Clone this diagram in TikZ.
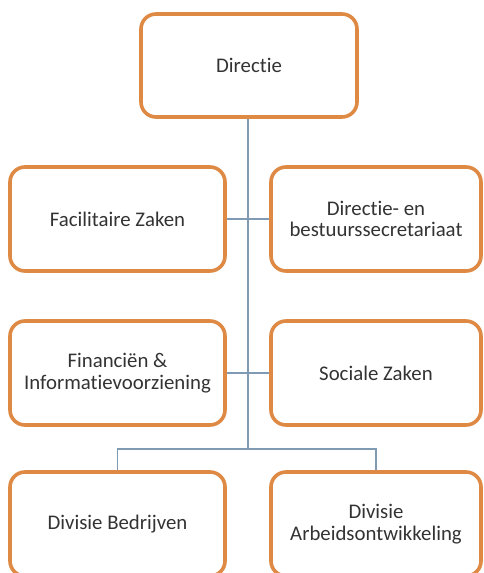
\documentclass[tikz,border=0pt]{standalone}
\usepackage{fontspec}
\setmainfont{Carlito}[Ligatures={NoCommon,NoContextual}]
\definecolor{boxorange}{HTML}{DE8A45}
\definecolor{linkblue}{HTML}{7F9BB4}
\definecolor{txtgrey}{HTML}{333333}
\pgfdeclarelayer{background}
\pgfsetlayers{background,main}
\begin{document}
\begin{tikzpicture}[x=1pt,y=-1pt,
  unit/.style={draw=boxorange, line width=3.6pt, rounded corners=15pt, fill=white,
    minimum height=104pt, align=center, text=txtgrey,
    font=\fontsize{20.8}{21.5}\selectfont, inner sep=0pt},
  lw/.style={unit, minimum width=215pt},
  rw/.style={unit, minimum width=210pt},
  link/.style={draw=linkblue, line width=1.1pt}]
\useasboundingbox (0,0) rectangle (484,573);
\clip (0,0) rectangle (484,573);
\coordinate (trunkbot) at (248,449);
\coordinate (busl) at (117.5,449);
\coordinate (busr) at (376,449);
\node[unit, minimum width=216pt, minimum height=103pt] (dir) at (249,65.5) {Directie};
\node[lw] (fz) at (117.5,219) {Facilitaire Zaken};
\node[rw] (dbs) at (376,219) {Directie- en\\bestuurssecretariaat};
\node[lw] (fin) at (117.5,373) {Financiën \&\\Informatievoorziening};
\node[rw] (sz) at (376,373) {Sociale Zaken};
\node[lw] (db) at (117.5,524) {Divisie Bedrijven};
\node[rw] (da) at (376,524) {Divisie\\Arbeidsontwikkeling};
\begin{pgfonlayer}{background}
\fill[white] (0,0) rectangle (484,573);
\draw[link] (dir.south -| trunkbot) -- (trunkbot);
\draw[link] (fz.east) -- (dbs.west);
\draw[link] (fin.east) -- (sz.west);
\draw[link] (db.north) -- (busl) -- (busr) -- (da.north);
\end{pgfonlayer}
\end{tikzpicture}
\end{document}
